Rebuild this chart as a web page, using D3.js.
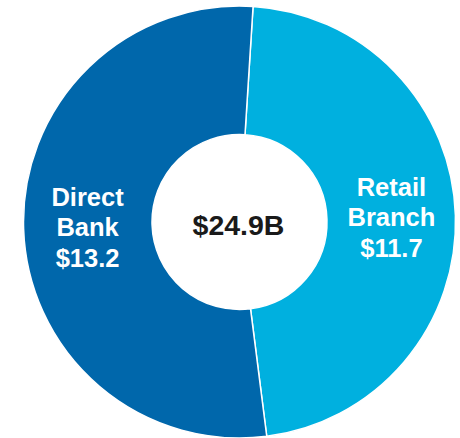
<!DOCTYPE html>
<html>
<head>
<meta charset="utf-8">
<script src="https://cdn.jsdelivr.net/npm/d3@7"></script>
<style>
  html, body { margin: 0; padding: 0; background: #fff; }
  svg { display: block; }
</style>
</head>
<body>
<svg></svg>
<script>
let categories = ["Retail Branch", "Direct Bank"];
let labelLines = [["Retail", "Branch", "$11.7"], ["Direct", "Bank", "$13.2"]];
let values = [11.7, 13.2];
let colors = ["#00B0DF", "#0067AB"];
let totalLabel = "$24.9B";

let width = 460;
let height = 438;
let cx = 239.5;
let cy = 222;
let outerR = 216;
let innerR = 87.5;
let labelR = 152;

let svg = d3.select("svg")
            .attr("width", width)
            .attr("height", height);

let g = svg.append("g")
           .attr("transform", "translate(" + cx + "," + cy + ")");

let startA = 3.6 * Math.PI / 180;
let pie = d3.pie()
            .sort(null)
            .value((d) => d)
            .startAngle(startA)
            .endAngle(startA + 2 * Math.PI);

let arcs = pie(values);

let arc = d3.arc().innerRadius(innerR).outerRadius(outerR);
let labelArc = d3.arc().innerRadius(labelR).outerRadius(labelR);

g.selectAll("path")
 .data(arcs)
 .enter()
 .append("path")
 .attr("d", arc)
 .attr("fill", (d, i) => colors[i])
 .attr("stroke", "#fff")
 .attr("stroke-width", 1.5);

// slice labels, three lines each
let lineGap = 30.5;
arcs.forEach((d, i) => {
  let c = labelArc.centroid(d);
  let t = g.append("text")
           .attr("text-anchor", "middle")
           .attr("font-family", "Liberation Sans, Arial, sans-serif")
           .attr("font-weight", "bold")
           .attr("font-size", 25.5)
           .attr("fill", "#fff");
  labelLines[i].forEach((line, j) => {
    t.append("tspan")
     .attr("x", c[0])
     .attr("y", c[1] + 9.3 + (j - 1) * lineGap)
     .text(line);
  });
});

// total in the middle
g.append("text")
 .attr("text-anchor", "middle")
 .attr("x", -1)
 .attr("y", 13)
 .attr("font-family", "Liberation Sans, Arial, sans-serif")
 .attr("font-weight", "bold")
 .attr("font-size", 28.5)
 .attr("fill", "#1a1a1a")
 .text(totalLabel);
</script>
</body>
</html>
